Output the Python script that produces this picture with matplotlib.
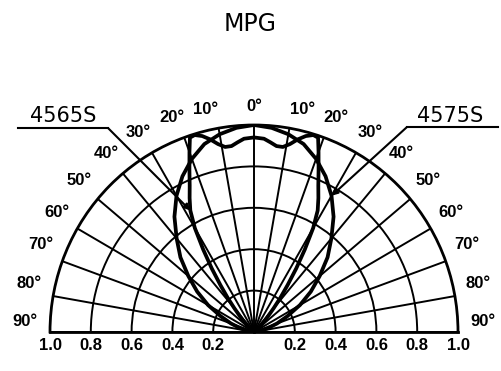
import numpy as np
import matplotlib
matplotlib.use("Agg")
import matplotlib.pyplot as plt
from matplotlib.lines import Line2D
from matplotlib import font_manager

# ---------------- data ----------------
title = "MPG"

# 4575S : smooth wide oval (angle from vertical, deg ; relative intensity)
ang_4575 = [-90, -85, -80, -75, -70, -65, -60, -55, -50, -45, -40, -35, -30, -25, -20, -15, -10, -5,
            0, 5, 10, 15, 20, 25, 30, 35, 40, 45, 50, 55, 60, 65, 70, 75, 80, 85, 90]
r_4575 = [0.0, 0.01, 0.03, 0.07, 0.12, 0.18, 0.26, 0.34, 0.42, 0.51, 0.59, 0.68, 0.76, 0.83, 0.89, 0.94, 0.97, 0.99,
          1.0, 0.99, 0.97, 0.94, 0.89, 0.83, 0.76, 0.68, 0.59, 0.51, 0.42, 0.34, 0.26, 0.18, 0.12, 0.07, 0.03, 0.01, 0.0]

# 4565S : narrow beam with wavy top
ang_4565 = [-90, -60, -50, -44, -40, -38, -36, -34, -32, -30, -28, -26, -24, -22, -20, -18.5, -17, -15, -13, -11,
            -9, -7, -5, -3, 0, 3, 5, 7, 9, 11, 13, 15, 17, 18.5, 20, 22, 24, 26, 28, 30, 32, 34, 36, 38, 40,
            44, 50, 60, 90]
r_4565 = [0.0, 0.01, 0.035, 0.08, 0.15, 0.21, 0.28, 0.37, 0.47, 0.58, 0.665, 0.72, 0.775, 0.845, 0.925, 0.99,
          0.995, 0.98, 0.955, 0.925, 0.905, 0.905, 0.92, 0.935, 0.94, 0.935, 0.92, 0.905, 0.905, 0.925, 0.955,
          0.98, 0.995, 0.99, 0.925, 0.845, 0.775, 0.72, 0.665, 0.58, 0.47, 0.37, 0.28, 0.21, 0.15, 0.08, 0.035,
          0.01, 0.0]

ring_values = [0.2, 0.4, 0.6, 0.8, 1.0]
ring_labels = ["0.2", "0.4", "0.6", "0.8", "1.0"]
spoke_angles = list(range(-90, 91, 10))
angle_labels = ["0°", "10°", "20°", "30°", "40°", "50°", "60°", "70°", "80°", "90°"]
angle_label_pos = [0, 12.5, 21.3, 30.5, 40, 49.5, 59, 68, 78, 87.3]
angle_label_rad = [1.09, 1.10, 1.11, 1.12, 1.125, 1.125, 1.125, 1.125, 1.125, 1.125]

# ---------------- figure ----------------
W, H = 501, 371
fig = plt.figure(figsize=(W / 100, H / 100), dpi=100)
fig.patch.set_facecolor("white")

names = {f.name for f in font_manager.fontManager.ttflist}
lab_family = "Liberation Sans Narrow" if "Liberation Sans Narrow" in names else "Liberation Sans"

# polar wedge: centre (cx, cy) in px from top-left, radii Rx, Ry in px
cx, cy, Rx, Ry = 254, 332, 204, 207
box_h = 2 * Ry                      # half-wedge occupies the middle half of the axes box
box_bottom = (H - cy) - 0.25 * box_h
ax = fig.add_axes([(cx - Rx) / W, box_bottom / H, 2 * Rx / W, box_h / H], projection="polar")
ax.set_theta_zero_location("N")
ax.set_theta_direction(-1)
ax.set_thetamin(-90)
ax.set_thetamax(90)
ax.set_ylim(0, 1.0)
ax.set_aspect("auto")

ax.set_xticks(np.radians(spoke_angles))
ax.set_xticklabels([])
ax.set_yticks(ring_values[:-1])
ax.set_yticklabels([])
ax.tick_params(length=0)
ax.grid(True, color="black", lw=1.4)
ax.set_facecolor("white")
for name, sp in ax.spines.items():
    sp.set_color("black")
    sp.set_linewidth(2.0)

ax.plot(np.radians(ang_4575), r_4575, color="black", lw=2.7, solid_joinstyle="round")
ax.plot(np.radians(ang_4565), r_4565, color="black", lw=2.7, solid_joinstyle="round")

# angle labels
for lab, a, rr in zip(angle_labels, angle_label_pos, angle_label_rad):
    sides = [0] if a == 0 else [-a, a]
    for s in sides:
        ax.text(np.radians(s), rr, lab, ha="center", va="center", fontsize=12,
                fontweight="bold", family=lab_family, clip_on=False)

# radial labels along the baseline
for v, lab in zip(ring_values, ring_labels):
    for s in (-90, 90):
        ax.annotate(lab, xy=(np.radians(s), v), xytext=(0, -10), textcoords="offset points",
                    ha="center", va="center", fontsize=12, fontweight="bold", family=lab_family,
                    annotation_clip=False)

# title
fig.text(250 / W, 1 - 24 / H, title, ha="center", va="center", fontsize=17, family="DejaVu Sans")

# leader labels
fig.text(63 / W, 1 - 116.5 / H, "4565S", ha="center", va="center", fontsize=15, family="DejaVu Sans")
fig.text(450 / W, 1 - 115.5 / H, "4575S", ha="center", va="center", fontsize=15, family="DejaVu Sans")
fig.add_artist(Line2D([18 / W, 108 / W], [1 - 128 / H, 1 - 128 / H], color="black", lw=1.5,
                      transform=fig.transFigure))
fig.add_artist(Line2D([407 / W, 498 / W], [1 - 127 / H, 1 - 127 / H], color="black", lw=1.5,
                      transform=fig.transFigure))
ax.annotate("", xy=(np.radians(-28), 0.665), xycoords="data",
            xytext=(108 / W, 1 - 128 / H), textcoords="figure fraction",
            arrowprops=dict(arrowstyle="-|>", color="black", lw=1.5, shrinkA=0, shrinkB=0,
                            mutation_scale=9), annotation_clip=False)
ax.annotate("", xy=(np.radians(30), 0.76), xycoords="data",
            xytext=(407 / W, 1 - 127 / H), textcoords="figure fraction",
            arrowprops=dict(arrowstyle="-|>", color="black", lw=1.5, shrinkA=0, shrinkB=0,
                            mutation_scale=9), annotation_clip=False)

fig.savefig("out.png", dpi=100, facecolor="white")
